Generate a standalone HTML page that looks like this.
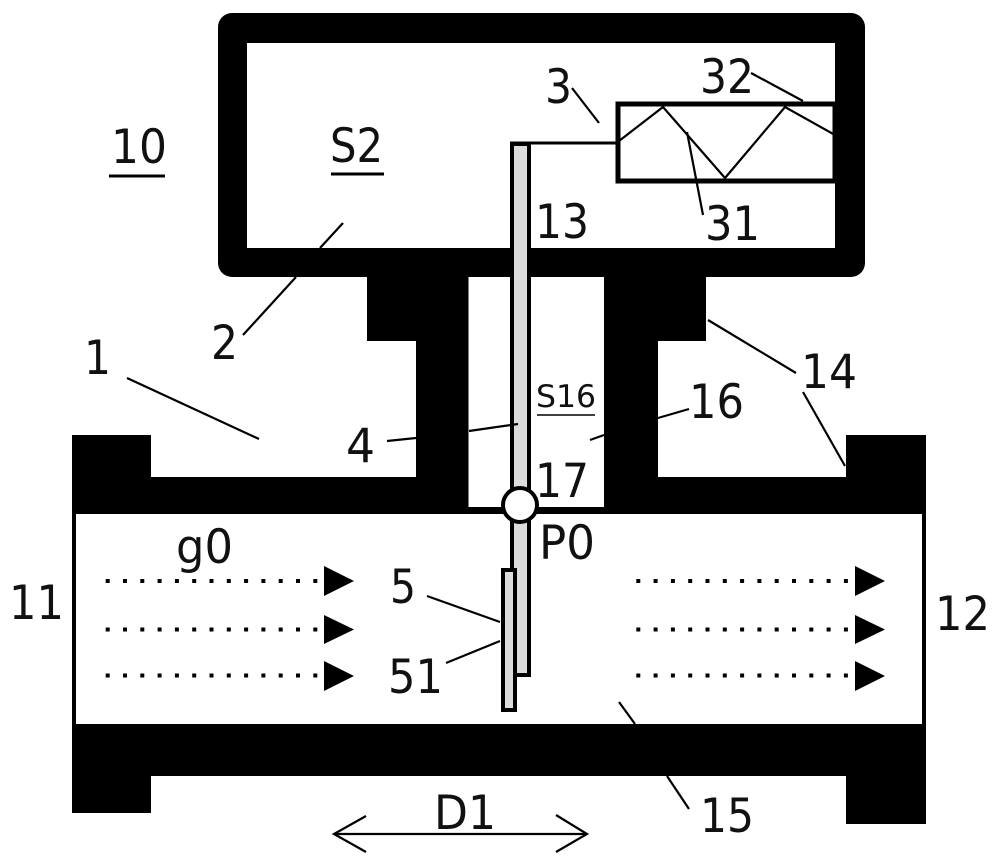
<!DOCTYPE html>
<html>
<head>
<meta charset="utf-8">
<style>
html,body{margin:0;padding:0;background:#fff;width:1000px;height:866px;overflow:hidden}
svg{display:block}
text{font-family:"DejaVu Sans","Liberation Sans",sans-serif;fill:#111;font-size:47px}
</style>
</head>
<body>
<svg width="1000" height="866" viewBox="0 0 1000 866" xmlns="http://www.w3.org/2000/svg">
<rect width="1000" height="866" fill="#fff"/>
<!-- top housing -->
<rect x="218" y="13" width="647" height="264" rx="14" fill="#000"/>
<rect x="247" y="43" width="588" height="205" fill="#fff"/>
<!-- neck and pipe -->
<path d="M367 270H706V341H658V477H846V435H926V514H72V435H151V477H416V341H367Z" fill="#000"/>
<rect x="468.500" y="277" width="135.500" height="230" fill="#fff"/>
<rect x="72" y="510" width="854" height="218" fill="#000"/>
<rect x="76" y="514" width="846" height="210" fill="#fff"/>
<path d="M72 724H926V824H846V776H151V813H72Z" fill="#000"/>
<!-- spring box -->
<rect x="618" y="104" width="217" height="77" fill="#fff" stroke="#000" stroke-width="5"/>
<path d="M619 141L663 107L725 178L785 107L835 135" fill="none" stroke="#000" stroke-width="2.200"/>
<path d="M510 143H616" fill="none" stroke="#000" stroke-width="3"/>
<!-- rod -->
<rect x="512" y="144" width="17" height="531" fill="#dcdcdc" stroke="#000" stroke-width="4"/>
<rect x="503" y="570" width="12" height="140" fill="#dcdcdc" stroke="#000" stroke-width="4"/>
<circle cx="520" cy="505" r="17" fill="#fff" stroke="#000" stroke-width="4"/>
<!-- leader lines -->
<g fill="none" stroke="#000" stroke-width="2.200">
<path d="M243 335L296 277"/>
<path d="M320 248L343 223"/>
<path d="M127 378L259 439"/>
<path d="M387 441L416 438"/>
<path d="M469 431L518 424"/>
<path d="M590 440L604 435"/>
<path d="M658 418L689 409"/>
<path d="M708 320L796 373"/>
<path d="M803 392L845 466"/>
<path d="M572 88L599 123"/>
<path d="M751 73L803 101"/>
<path d="M687 132L703 215"/>
<path d="M427 596L500 622"/>
<path d="M446 663L500 641"/>
<path d="M619 702L635 724"/>
<path d="M667 776L689 809"/>
<path d="M334 834H587"/>
<path d="M366 816L334 834L366 852"/>
<path d="M556 815L587 834L556 852"/>
</g>
<!-- underlines -->
<g stroke="#000" fill="none">
<path d="M109 176H165" stroke-width="3"/>
<path d="M331 174H384" stroke-width="3"/>
<path d="M537 415H595" stroke-width="1.500"/>
</g>
<!-- flow arrows -->
<g stroke="#000" stroke-width="4" stroke-dasharray="4 13.300" fill="none">
<path d="M105.700 581H320"/>
<path d="M105.700 629.500H320"/>
<path d="M105.700 675.500H320"/>
<path d="M636.300 581H851"/>
<path d="M636.300 629.500H851"/>
<path d="M636.300 675.500H851"/>
</g>
<g fill="#000">
<path d="M324 566L354 581L324 596Z"/>
<path d="M324 615L354 629.500L324 644Z"/>
<path d="M324 661L354 676L324 691Z"/>
<path d="M855 566L885 581L855 596Z"/>
<path d="M855 615L885 629.500L855 644Z"/>
<path d="M855 661L885 676L855 691Z"/>
</g>
<!-- labels -->
<text x="111" y="163" textLength="56" lengthAdjust="spacingAndGlyphs">10</text>
<text x="330" y="162" textLength="53" lengthAdjust="spacingAndGlyphs">S2</text>
<text x="545" y="103" textLength="27" lengthAdjust="spacingAndGlyphs">3</text>
<text x="700" y="93" textLength="54" lengthAdjust="spacingAndGlyphs">32</text>
<text x="535" y="238" textLength="54" lengthAdjust="spacingAndGlyphs">13</text>
<text x="705" y="240" textLength="55" lengthAdjust="spacingAndGlyphs">31</text>
<text x="211" y="359" textLength="27" lengthAdjust="spacingAndGlyphs">2</text>
<text x="84" y="374" textLength="27" lengthAdjust="spacingAndGlyphs">1</text>
<text x="346" y="462" textLength="29" lengthAdjust="spacingAndGlyphs">4</text>
<text x="801" y="388" textLength="56" lengthAdjust="spacingAndGlyphs">14</text>
<text x="689" y="418" textLength="55" lengthAdjust="spacingAndGlyphs">16</text>
<text x="535" y="497" textLength="54" lengthAdjust="spacingAndGlyphs">17</text>
<text x="539" y="559" textLength="56" lengthAdjust="spacingAndGlyphs">P0</text>
<text x="176" y="563" textLength="57" lengthAdjust="spacingAndGlyphs">g0</text>
<text x="9" y="619" textLength="55" lengthAdjust="spacingAndGlyphs">11</text>
<text x="935" y="630" textLength="55" lengthAdjust="spacingAndGlyphs">12</text>
<text x="390" y="603" textLength="26" lengthAdjust="spacingAndGlyphs">5</text>
<text x="388" y="693" textLength="55" lengthAdjust="spacingAndGlyphs">51</text>
<text x="700" y="832" textLength="54" lengthAdjust="spacingAndGlyphs">15</text>
<text x="434" y="829" textLength="62" lengthAdjust="spacingAndGlyphs">D1</text>
<text x="536" y="407" style="font-size:31px" textLength="60" lengthAdjust="spacingAndGlyphs">S16</text>
</svg>
</body>
</html>
